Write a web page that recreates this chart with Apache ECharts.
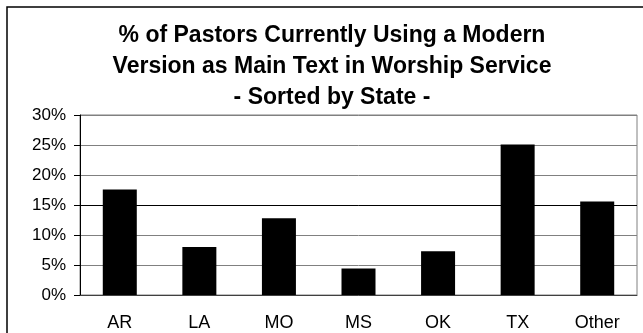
<!DOCTYPE html>
<html lang="en">
<head>
    <meta charset="UTF-8">
    <title>Modern Version by State</title>
    <style>
        body { margin: 0; background: #fff; }
    </style>
</head>
<body>
<div id="main" style="width: 643px;height:333px;"></div>

<script src="https://cdn.jsdelivr.net/npm/echarts@6/dist/echarts.min.js"></script>
<script>
    // data
    var states = ['AR', 'LA', 'MO', 'MS', 'OK', 'TX', 'Other'];
    var percentModern = [17.6, 8.0, 12.8, 4.4, 7.3, 25.1, 15.6];
    var titleLines = [
        '% of Pastors Currently Using a Modern',
        'Version as Main Text in Worship Service',
        '- Sorted by State -'
    ];

    var chart = echarts.init(document.getElementById('main'));
    chart.setOption({
        backgroundColor: '#fff',
        animation: false,
        textStyle: {
            fontFamily: 'Liberation Sans, Arial, sans-serif'
        },
        title: {
            text: titleLines.join('\n'),
            left: 332,
            top: 20,
            padding: 0,
            textAlign: 'center',
            textStyle: {
                fontSize: 23,
                fontWeight: 'bold',
                color: '#000',
                lineHeight: 31
            }
        },
        graphic: [
            {
                type: 'rect',
                shape: { x: 7, y: 7, width: 700, height: 400 },
                style: { fill: 'none', stroke: '#000', lineWidth: 1.5 },
                silent: true
            }
        ],
        grid: {
            left: 80,
            right: 6,
            top: 115,
            bottom: 38,
            show: true,
            backgroundColor: '#fff',
            borderColor: '#808080',
            borderWidth: 1
        },
        xAxis: {
            type: 'category',
            data: states,
            axisLine: { lineStyle: { color: '#404040', width: 1 } },
            axisTick: { length: 6, interval: 0, lineStyle: { color: '#404040' } },
            axisLabel: { margin: 19, fontSize: 18, color: '#000', interval: 0 }
        },
        yAxis: {
            type: 'value',
            min: 0,
            max: 30,
            interval: 5,
            axisLine: { show: true, lineStyle: { color: '#000', width: 1 } },
            axisTick: { show: true, length: 6, lineStyle: { color: '#000' } },
            axisLabel: {
                margin: 14,
                fontSize: 17,
                color: '#000',
                formatter: '{value}%'
            },
            splitLine: { lineStyle: { color: '#808080', width: 1 } }
        },
        series: [
            {
                name: 'Modern version',
                type: 'bar',
                data: percentModern,
                barWidth: 34,
                itemStyle: { color: '#000' },
                markLine: {
                    silent: true,
                    symbol: 'none',
                    label: { show: false },
                    lineStyle: { color: '#000', width: 1, type: 'solid' },
                    data: [{ yAxis: 15 }]
                }
            }
        ]
    });
</script>
</body>
</html>
